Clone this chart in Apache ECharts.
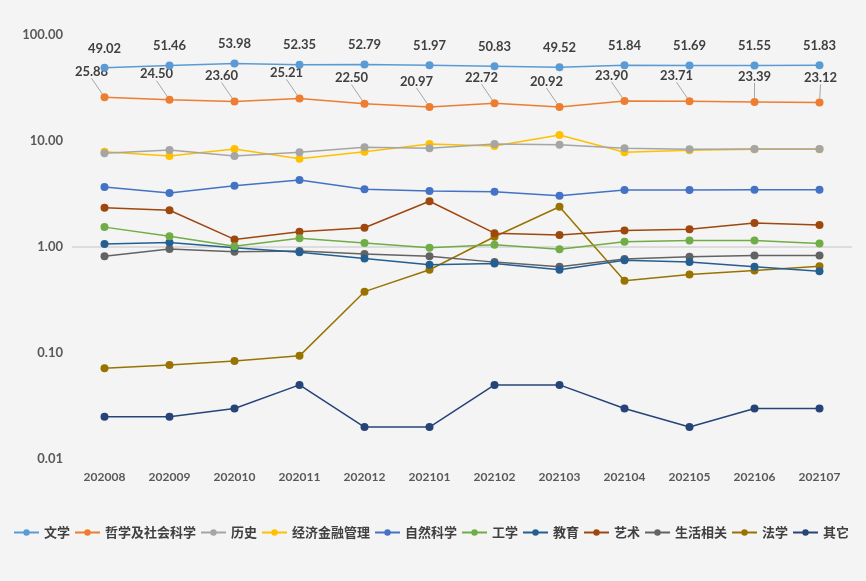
<!DOCTYPE html>
<html><head><meta charset="utf-8">
<script src="https://cdn.jsdelivr.net/npm/echarts@6/dist/echarts.min.js"></script>
<style>html,body{margin:0;padding:0;background:#f4f4f4}#c{width:866px;height:581px}</style>
</head><body><div id="c"></div>
<script>
const months = ['202008','202009','202010','202011','202012','202101','202102','202103','202104','202105','202106','202107'];
const wenxue   = [49.02,51.46,53.98,52.35,52.79,51.97,50.83,49.52,51.84,51.69,51.55,51.83];
const zhexue   = [25.88,24.50,23.60,25.21,22.50,20.97,22.72,20.92,23.90,23.71,23.39,23.12];
const lishi    = [7.65,8.22,7.21,7.82,8.72,8.53,9.37,9.23,8.53,8.36,8.40,8.40];
const jingji   = [7.93,7.21,8.41,6.81,7.93,9.37,8.97,11.4,7.82,8.17,8.35,8.35];
const ziran    = [3.68,3.23,3.79,4.29,3.50,3.38,3.32,3.05,3.45,3.45,3.47,3.47];
const gongxue  = [1.54,1.26,1.015,1.21,1.09,0.985,1.05,0.95,1.12,1.15,1.15,1.08];
const jiaoyu   = [1.07,1.10,0.985,0.89,0.78,0.68,0.70,0.61,0.75,0.72,0.65,0.59];
const yishu    = [2.35,2.22,1.18,1.39,1.52,2.70,1.35,1.30,1.43,1.47,1.68,1.61];
const shenghuo = [0.82,0.957,0.90,0.917,0.86,0.82,0.72,0.65,0.77,0.81,0.83,0.83];
const faxue    = [0.0717,0.077,0.084,0.094,0.379,0.61,1.25,2.40,0.48,0.55,0.60,0.66];
const qita     = [0.025,0.025,0.03,0.05,0.02,0.02,0.05,0.05,0.03,0.02,0.03,0.03];
const yTicks = [0.01,0.1,1,10,100];

const names = ['文学','哲学及社会科学','历史','经济金融管理','自然科学','工学','教育','艺术','生活相关','法学','其它'];
const datas = [wenxue,zhexue,lishi,jingji,ziran,gongxue,jiaoyu,yishu,shenghuo,faxue,qita];
const colors = ['#5B9BD5','#ED7D31','#A5A5A5','#FFC000','#4472C4','#70AD47','#255E91','#9E480E','#636363','#997300','#264478'];
const FONT = 'Lato, "Noto Sans CJK SC", sans-serif';

const series = names.map((n,i)=>{
  const s = {
    name:n, type:'line', data:datas[i], symbol:'circle', symbolSize:8,
    lineStyle:{width:1.5, color:colors[i]}, itemStyle:{color:colors[i]},
    z: 20 - i
  };
  if(i===0){
    s.label={show:true, position:'top', distance:9, color:'#404040', fontWeight:'bold', fontSize:13, fontFamily:FONT,
      formatter:p=>p.value.toFixed(2)};
    s.markLine={silent:true, symbol:'none', label:{show:false}, lineStyle:{color:'#dcdcdc', width:2, type:'solid'},
      data:[{yAxis:1}], z:1};
  }
  if(i===1){
    s.label={show:true, position:'top', distance:5, color:'#404040', fontWeight:'bold', fontSize:13, fontFamily:FONT,
      formatter:p=>p.value.toFixed(2)};
    s.labelLine={show:true, lineStyle:{color:'#a6a6a6', width:1}};
    s.labelLayout=function(p){
      const idx=p.dataIndex;
      if(idx===10) return {dx:0, dy:-10};
      if(idx===11) return {dx:1, dy:-9};
      return {dx:-13, dy:-10};
    };
  }
  return s;
});

const chart = echarts.init(document.getElementById('c'));
chart.setOption({
  backgroundColor:'#f4f4f4',
  textStyle:{fontFamily:FONT},
  animation:false,
  grid:{left:72, right:14, top:35, bottom:122},
  legend:{
    bottom:37, left:8, itemGap:4, itemWidth:25, itemHeight:8,
    textStyle:{color:'#404040', fontSize:13, fontWeight:'bold', fontFamily:FONT},
    data:names
  },
  xAxis:{type:'category', data:months, boundaryGap:true,
    axisLine:{show:false}, axisTick:{show:false},
    axisLabel:{color:'#595959', fontWeight:'bold', fontSize:12, margin:12, fontFamily:FONT}},
  yAxis:{type:'log', logBase:10, min:0.01, max:100,
    splitLine:{show:false}, axisLine:{show:false}, axisTick:{show:false},
    axisLabel:{color:'#595959', fontWeight:'bold', fontSize:13, margin:9, fontFamily:FONT,
      formatter:v=>Number(v).toFixed(2)}},
  series:series
});
</script></body></html>
